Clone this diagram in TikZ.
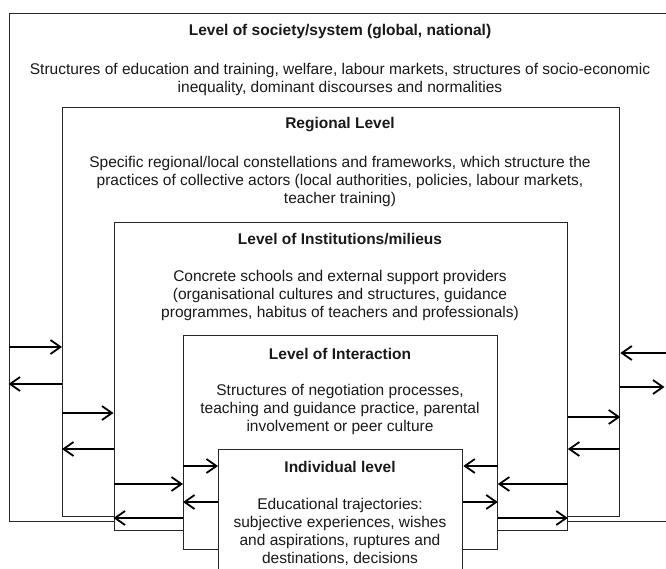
\documentclass[tikz,border=0pt]{standalone}
\usepackage{fontspec}
\setmainfont{Liberation Sans}
\usetikzlibrary{arrows.meta}
\begin{document}
\begin{tikzpicture}[x=1pt,y=-1pt,
 lvl/.style={draw=black!85, line width=1.3pt, fill=white, rectangle, inner sep=0pt, anchor=north west},
 ttl/.style={font=\fontsize{15.5}{18}\selectfont\bfseries, inner sep=0pt, text=black!90},
 body/.style={font=\fontsize{15.5}{18}\selectfont, align=center, inner sep=0pt, text=black!90},
 arr/.style={line width=1.8pt, -{Straight Barb[length=10pt,width=14pt]}}]
\useasboundingbox (0,0) rectangle (666,568);
\clip (0,0) rectangle (666,568);
\coordinate (rim) at (666,0);
\node[lvl, minimum width=720pt, minimum height=507.5pt] (b1) at (8.5,13) {};
\node[lvl, minimum width=557pt, minimum height=408.5pt] (b2) at (62,107) {};
\node[lvl, minimum width=453pt, minimum height=308pt] (b3) at (113.5,222) {};
\node[lvl, minimum width=313.5pt, minimum height=214pt] (b4) at (183,335) {};
\node[lvl, minimum width=244pt, minimum height=200pt] (b5) at (218,449) {};
% texts
\node[ttl] (t1) at (340,32) {Level of society/system (global, national)};
\node[body] (d1) at (340,79) {Structures of education and training, welfare, labour markets, structures of socio-economic\\inequality, dominant discourses and normalities};
\node[ttl] (t2) at (340,125) {Regional Level};
\node[body] (d2) at (340,181.5) {Specific regional/local constellations and frameworks, which structure the\\practices of collective actors (local authorities, policies, labour markets,\\teacher training)};
\node[ttl] (t3) at (340,239) {Level of Institutions/milieus};
\node[body] (d3) at (340,295.5) {Concrete schools and external support providers\\(organisational cultures and structures, guidance\\programmes, habitus of teachers and professionals)};
\node[ttl] (t4) at (340,354) {Level of Interaction};
\node[body] (d4) at (340,409.5) {Structures of negotiation processes,\\teaching and guidance practice, parental\\involvement or peer culture};
\node[ttl] (t5) at (340,467) {Individual level};
\node[body] (d5) at (340,532) {Educational trajectories:\\subjective experiences, wishes\\and aspirations, ruptures and\\destinations, decisions};
% left arrows
\draw[arr] (b1.west |- 0,347) -- (b2.west |- 0,347);
\draw[arr] (b2.west |- 0,384) -- (b1.west |- 0,384);
\draw[arr] (b2.west |- 0,413) -- (b3.west |- 0,413);
\draw[arr] (b3.west |- 0,449) -- (b2.west |- 0,449);
\draw[arr] (b4.west |- 0,466) -- (b5.west |- 0,466);
\draw[arr] (b3.west |- 0,484) -- (b4.west |- 0,484);
\draw[arr] (b5.west |- 0,502) -- (b4.west |- 0,502);
\draw[arr] (b4.west |- 0,518) -- (b3.west |- 0,518);
% right arrows
\draw[arr] (rim |- 0,353) -- (b2.east |- 0,353);
\draw[arr, shorten >=1.5pt] (b2.east |- 0,387) -- (rim |- 0,387);
\draw[arr] (b3.east |- 0,417) -- (b2.east |- 0,417);
\draw[arr] (b2.east |- 0,449) -- (b3.east |- 0,449);
\draw[arr] (b4.east |- 0,466) -- (b5.east |- 0,466);
\draw[arr] (b3.east |- 0,484) -- (b4.east |- 0,484);
\draw[arr] (b5.east |- 0,502) -- (b4.east |- 0,502);
\draw[arr] (b4.east |- 0,518) -- (b3.east |- 0,518);
\end{tikzpicture}
\end{document}
